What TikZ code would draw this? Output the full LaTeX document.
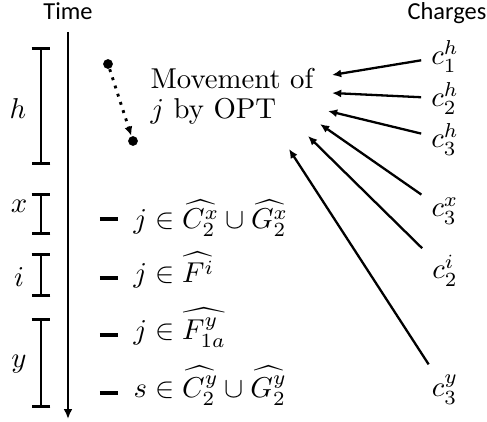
\documentclass[tikz,border=0pt]{standalone}
\usepackage{amsmath,amssymb}
\usepackage{fontspec}
\newfontfamily\headfont{Carlito}
\usetikzlibrary{arrows.meta}

\begin{document}
\begin{tikzpicture}[x=0.348pt, y=-0.348pt,
	every node/.style={font=\fontsize{10}{10.4}\selectfont},
	head/.style={font=\headfont\fontsize{8.5}{10}\selectfont, anchor=base, inner sep=0pt},
	span/.style={line width=1pt, {Bar[width=6.6pt]}-{Bar[width=6.6pt]}},
	tick/.style={line width=1.2pt},
	member/.style={anchor=base west, inner sep=0pt},
	charge/.style={anchor=base},
	dot/.style={circle, fill, inner sep=0pt, minimum size=3.4pt},
	>={Latex[length=3.2pt, width=2.8pt]}]
	\useasboundingbox (0,0) rectangle (487,422);
	\node[head] (time) at (68,19) {Time};
	\node[head] (charges) at (447,19) {Charges};
	% time axis
	\coordinate (tstart) at (68,32);
	\coordinate (tend) at (68,419);
	\draw[line width=1pt, -{Latex[length=3.4pt, width=3pt]}] (tstart) -- (tend);
	% intervals
	\draw[span] (41,47) -- (41,165);
	\node (h) at (18,109) {$h$};
	\draw[span] (41,193) -- (41,235);
	\node (x) at (19,206) {$x$};
	\draw[span] (41,253) -- (41,297);
	\node (i) at (19,277) {$i$};
	\draw[span] (41,318) -- (41,408);
	\node (y) at (19,364) {$y$};
	% sets
	\foreach \ty/\tb/\txt in {219/229/{$j \in \widehat{C_2^x} \cup \widehat{G_2^x}$},
		278/283/{$j \in \widehat{F^i}$},
		335/340/{$j \in \widehat{F_{1a}^y}$},
		393/398/{$s \in \widehat{C_2^y} \cup \widehat{G_2^y}$}} {
		\draw[tick] (100,\ty) -- (118,\ty);
		\node[member] at (133,\tb) {\txt};
	}
	% movement
	\node[dot] (from) at (108,64) {};
	\node[dot] (to) at (133,141) {};
	\draw[line width=1pt, dotted, ->] (from) -- (to);
	\node[anchor=north west, inner sep=0pt, align=left] (move) at (150,68) {Movement of\\$j$ by OPT};
	% charges
	\node[charge] (c1h) at (445,65) {$c_1^h$};
	\node[charge] (c2h) at (445,107) {$c_2^h$};
	\node[charge] (c3h) at (445,148) {$c_3^h$};
	\node[charge] (c3x) at (445,217) {$c_3^x$};
	\node[charge] (c2i) at (445,279) {$c_2^i$};
	\node[charge] (c3y) at (445,397) {$c_3^y$};
	\coordinate (m1) at (332,75);
	\coordinate (m2) at (332,93);
	\coordinate (m3) at (328,111);
	\coordinate (m4) at (320,124);
	\coordinate (m5) at (308,136);
	\coordinate (m6) at (289,149);
	\foreach \c/\m in {c1h/m1, c2h/m2, c3h/m3, c3x/m4, c2i/m5, c3y/m6}
		\draw[line width=0.8pt, ->] (\c) -- (\m);
\end{tikzpicture}
\end{document}
